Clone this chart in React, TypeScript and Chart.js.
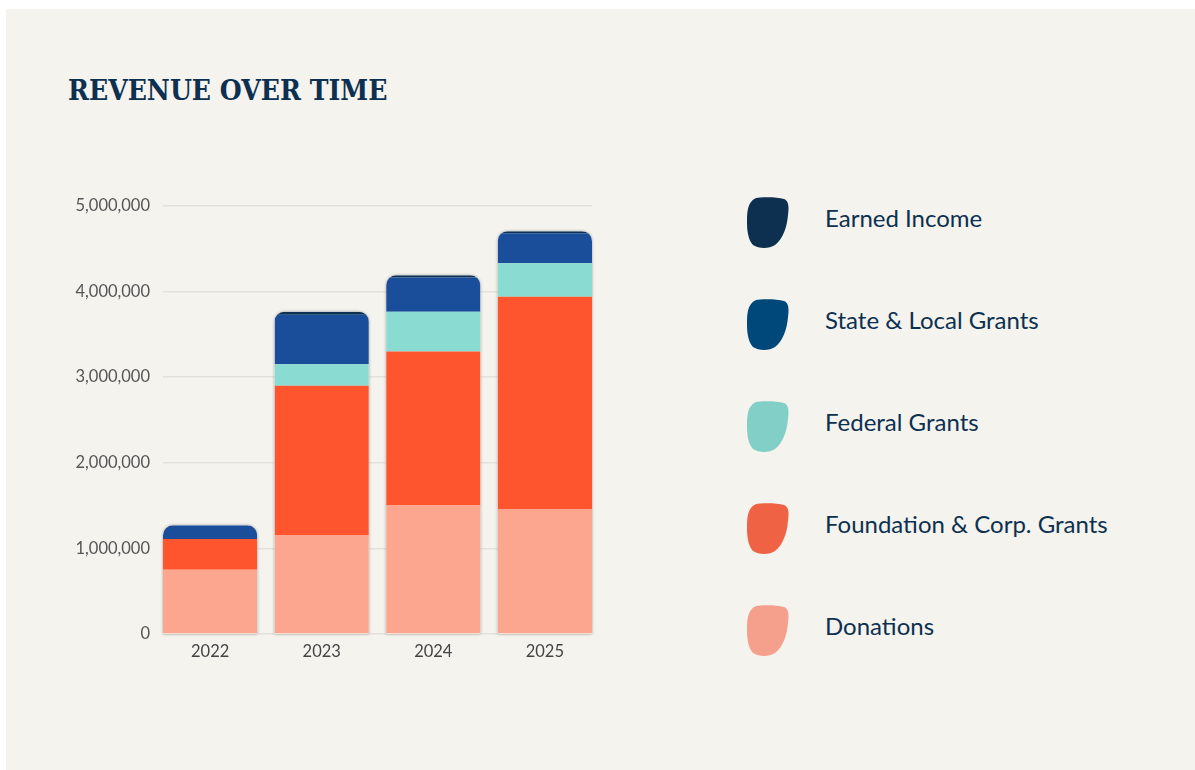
import React, { useEffect, useRef } from "react";
import { Chart, registerables } from "chart.js";

Chart.register(...registerables);

// ---- Data ----
const years = ["2022", "2023", "2024", "2025"];
const donations = [750000, 1150000, 1500000, 1460000];
const foundationGrants = [360000, 1750000, 1800000, 2480000];
const federalGrants = [0, 250000, 465000, 390000];
const stateLocalGrants = [160000, 580000, 400000, 350000];
const earnedIncome = [0, 35000, 25000, 25000];

const yTickValues = [0, 1000000, 2000000, 3000000, 4000000, 5000000];

const seriesNames = [
  "Donations",
  "Foundation & Corp. Grants",
  "Federal Grants",
  "State & Local Grants",
  "Earned Income",
];
const seriesValues = [donations, foundationGrants, federalGrants, stateLocalGrants, earnedIncome];
const barColors = ["#fca68f", "#ff552e", "#8adbd1", "#1a4e9a", "#0c3152"];

const legendNames = [
  "Earned Income",
  "State & Local Grants",
  "Federal Grants",
  "Foundation & Corp. Grants",
  "Donations",
];
const legendColors = ["#0d3050", "#00477a", "#81cfc7", "#f06244", "#f5a08d"];

const BG = "#f4f3ee";
const NAVY = "#0d3050";
const BAR_PCT = 0.845;

function roundTopRect(p: Path2D, l: number, t: number, r: number, b: number, rad: number) {
  const rr = Math.min(rad, (r - l) / 2, (b - t) / 2);
  p.moveTo(l, b);
  p.lineTo(l, t + rr);
  p.arcTo(l, t, l + rr, t, rr);
  p.lineTo(r - rr, t);
  p.arcTo(r, t, r, t + rr, rr);
  p.lineTo(r, b);
  p.closePath();
}

const stackClip = {
  id: "stackClip",
  beforeDatasetsDraw(chart: any) {
    const ctx = chart.ctx;
    const yScale = chart.scales.y;
    const metas = chart.getSortedVisibleDatasetMetas();
    const path = new Path2D();
    years.forEach((_, i) => {
      let total = 0;
      chart.data.datasets.forEach((ds: any) => {
        total += ds.data[i].y;
      });
      const el = metas[0].data[i];
      const { x, width } = el.getProps(["x", "width"], true);
      const top = yScale.getPixelForValue(total);
      const bottom = yScale.getPixelForValue(0);
      roundTopRect(path, x - width / 2, top, x + width / 2, bottom, 10);
    });
    ctx.save();
    ctx.save();
    ctx.shadowColor = "rgba(0,0,0,0.35)";
    ctx.shadowBlur = 3;
    ctx.fillStyle = BG;
    ctx.fill(path);
    ctx.restore();
    ctx.clip(path);
  },
  afterDatasetsDraw(chart: any) {
    chart.ctx.restore();
  },
};

function Blob({ color }: { color: string }) {
  return (
    <svg width={42} height={52} viewBox="0 0 42 52" style={{ display: "block" }}>
      <path
        d="M 9 1 C 18 -0.5, 30 0, 37 2 C 42 4, 42 10, 41 18 C 40 30, 36 42, 28 48 C 22 52, 12 52, 6 48 C 2 44, 0 36, 0 26 C 0 16, 0 5, 9 1 Z"
        fill={color}
      />
    </svg>
  );
}

export default function App() {
  const canvasRef = useRef<HTMLCanvasElement | null>(null);

  useEffect(() => {
    if (!canvasRef.current) return;
    const half = BAR_PCT / 2;
    const chart = new Chart(canvasRef.current, {
      type: "bar",
      data: {
        datasets: seriesNames.map((name, si) => ({
          label: name,
          data: seriesValues[si].map((v, i) => ({ x: i, y: v })),
          backgroundColor: barColors[si],
          borderWidth: 0,
          barPercentage: BAR_PCT,
          categoryPercentage: 1,
        })),
      },
      options: {
        animation: false,
        responsive: false,
        layout: { padding: { top: 8, right: 28, bottom: 0, left: 0 } },
        plugins: {
          legend: { display: false },
          tooltip: { enabled: false },
          title: { display: false },
        },
        scales: {
          x: {
            type: "linear",
            stacked: true,
            offset: false,
            min: -half,
            max: years.length - 1 + half,
            grid: { display: false, offset: false },
            border: { display: false },
            afterFit: (s: any) => {
              s.height = 36;
            },
            afterBuildTicks: (s: any) => {
              s.ticks = years.map((_, i) => ({ value: i }));
            },
            ticks: {
              callback: (v: any) => years[v] ?? "",
              color: "#444",
              padding: 0,
              font: { family: "Lato", size: 16.5 },
            },
          },
          y: {
            stacked: true,
            min: 0,
            max: yTickValues[yTickValues.length - 1],
            afterFit: (s: any) => {
              s.width = 123;
            },
            afterBuildTicks: (s: any) => {
              s.ticks = yTickValues.map((v) => ({ value: v }));
            },
            grid: { color: "#e3e1db", drawTicks: false, lineWidth: 1.5 },
            border: { display: false },
            ticks: {
              callback: (v: any) => Number(v).toLocaleString("en-US"),
              color: "#555",
              padding: 13,
              font: { family: "Lato", size: 16.5 },
            },
          },
        },
      } as any,
      plugins: [stackClip],
    });
    return () => chart.destroy();
  }, []);

  const legendTop = 197;
  const legendStep = 102;

  return (
    <div style={{ position: "absolute", left: 0, top: 0, width: 1195, height: 770 }}>
      <div
        style={{
          position: "absolute",
          left: 6,
          top: 9,
          width: 1189,
          height: 761,
          background: BG,
        }}
      />
      <div
        style={{
          position: "absolute",
          left: 68,
          top: 77,
          fontFamily: "'DejaVu Serif', serif",
          fontStretch: "condensed",
          fontWeight: 700,
          fontSize: 28,
          lineHeight: "28px",
          color: NAVY,
          whiteSpace: "nowrap",
        }}
      >
        REVENUE OVER TIME
      </div>
      <div style={{ position: "absolute", left: 40, top: 183, width: 580, height: 487 }}>
        <canvas ref={canvasRef} width={580} height={487} style={{ width: 580, height: 487, display: "block" }} />
      </div>
      {legendNames.map((name, i) => (
        <React.Fragment key={name}>
          <div style={{ position: "absolute", left: 747, top: legendTop + i * legendStep }}>
            <Blob color={legendColors[i]} />
          </div>
          <div
            style={{
              position: "absolute",
              left: 825,
              top: legendTop + 9 + i * legendStep,
              fontFamily: "Lato, sans-serif",
              fontSize: 24,
              lineHeight: "24px",
              color: NAVY,
              whiteSpace: "nowrap",
            }}
          >
            {name}
          </div>
        </React.Fragment>
      ))}
    </div>
  );
}
